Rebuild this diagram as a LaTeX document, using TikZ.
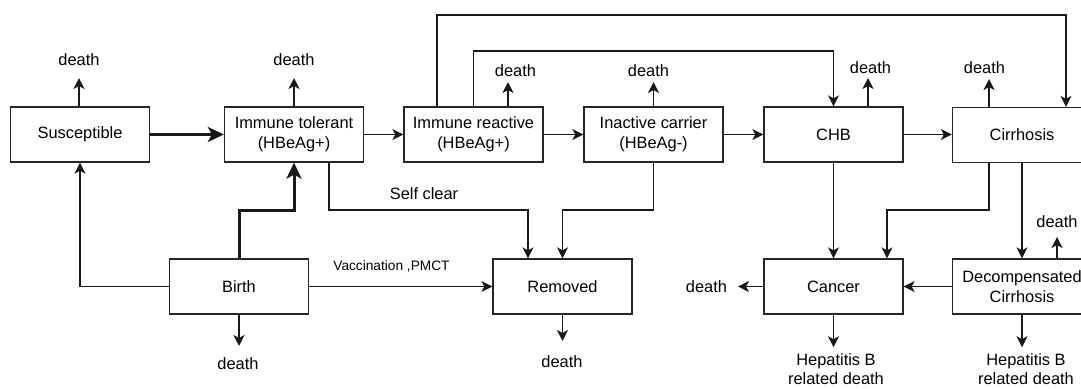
\documentclass[tikz,border=0pt]{standalone}
\usepackage{fontspec}
\setmainfont{Liberation Sans}
\usetikzlibrary{arrows.meta}
\begin{document}
\begin{tikzpicture}[x=1pt,y=-1pt,
  every node/.style={font=\fontsize{16.4}{19.5}\selectfont},
  state/.style={draw=black!85, line width=1.3pt, minimum width=139pt,
    minimum height=55pt, align=center, inner sep=2pt},
  flow/.style={draw=black!90, line width=1.3pt,
    -{Stealth[length=11pt,width=11pt,inset=3pt]}},
  mainflow/.style={flow, line width=3pt,
    -{Stealth[length=16pt,width=15pt,inset=4pt]}},
  fate/.style={inner sep=0pt, align=center},
  note/.style={inner sep=0pt, font=\fontsize{13.7}{16}\selectfont}]

\clip (0,0) rectangle (1081,388);

% compartments
\node[state] (sus) at (80,134.5)    {Susceptible};
\node[state] (tol) at (294,134.5)   {Immune tolerant\\(HBeAg+)};
\node[state] (rea) at (473.5,134.5) {Immune reactive\\(HBeAg+)};
\node[state] (ina) at (653.5,134.5) {Inactive carrier\\(HBeAg-)};
\node[state] (chb) at (833.5,134.5) {CHB};
\node[state] (cir) at (1022,135)    {Cirrhosis};
\node[state] (bir) at (239,286.5)   {Birth};
\node[state] (rem) at (562.5,286.5) {Removed};
\node[state] (can) at (833.5,286.5) {Cancer};
\node[state] (dec) at (1022,286.5)  {Decompensated\\Cirrhosis};

% exits
\node[fate, outer ysep=12pt] (dsus) at (79,60)     {death};
\node[fate, outer ysep=12pt] (dtol) at (294,60)    {death};
\node[fate, outer ysep=5pt]  (drea) at (515.5,71)  {death};
\node[fate, outer ysep=5pt]  (dina) at (648.5,71)  {death};
\node[fate, outer ysep=4pt]  (dchb) at (870.5,68)  {death};
\node[fate, outer ysep=5pt]  (dcir) at (984.5,68)  {death};
\node[fate, outer ysep=12pt] (dbir) at (238,364)   {death};
\node[fate, outer ysep=15pt] (drem) at (562,362)   {death};
\node[fate, outer xsep=11pt] (dcan) at (706.5,287) {death};
\node[fate, outer ysep=9pt]  (ddec) at (1057,222)  {death};
\node[fate, outer ysep=6pt]  (hcan) at (836,369)   {Hepatitis B\\related death};
\node[fate, outer ysep=6pt]  (hdec) at (1026,369)  {Hepatitis B\\related death};

% edge labels
\node[fate] (lself) at (424,194)   {Self clear};
\node[note] (lvac)  at (391.5,266) {Vaccination ,PMCT};

% attachment points off the box centres
\coordinate (reaA) at ([xshift=-36.5pt]rea.north);
\coordinate (reaD) at ([xshift=34.5pt]rea.north);
\coordinate (chbD) at ([xshift=34.5pt]chb.north);
\coordinate (cirA) at ([xshift=44pt]cir.north);
\coordinate (cirD) at ([xshift=-33pt]cir.north);
\coordinate (cirB) at ([xshift=-33pt]cir.south);
\coordinate (tolB) at ([xshift=35pt]tol.south);
\coordinate (remA) at ([xshift=-34.5pt]rem.north);
\coordinate (canA) at ([xshift=53.5pt]can.north);
\coordinate (decD) at ([xshift=35pt]dec.north);

% main progression
\draw[mainflow] (sus) -- (tol);
\draw[flow] (tol) -- (rea);
\draw[flow] (rea) -- (ina);
\draw[flow] (ina) -- (chb);
\draw[flow] (chb.east) -- (chb.east -| cir.west);
\draw[flow] (reaA) -- (reaA |- 0,15) -| (cirA);
\draw[flow] (rea.north) -- (rea.north |- 0,51) -| (chb.north);

% births and clearance
\draw[flow] (bir.west) -| (sus.south);
\draw[mainflow] (bir.north) -- (bir.north |- 0,210) -| (tol.south);
\draw[flow] (bir.east) -- (rem.west);
\draw[flow] (tolB) -- (tolB |- 0,210) -| (remA);
\draw[flow] (ina.south) -- (ina.south |- 0,210) -| (rem.north);

% liver disease
\draw[flow] (chb.south) -- (can.north);
\draw[flow] (cirB) -- (cirB |- 0,210) -| (canA);
\draw[flow] (cir.south) -- (dec.north);
\draw[flow] (dec.west) -- (can.east);

% deaths
\draw[flow] (dsus |- sus.north) -- (dsus);
\draw[flow] (tol.north) -- (dtol);
\draw[flow] (reaD) -- (reaD |- drea.south);
\draw[flow] (ina.north) -- (ina.north |- dina.south);
\draw[flow] (chbD) -- (chbD |- dchb.south);
\draw[flow] (cirD) -- (cirD |- dcir.south);
\draw[flow] (bir.south) -- (bir.south |- dbir.north);
\draw[flow] (rem.south) -- (rem.south |- drem.north);
\draw[flow] (can.west) -- (can.west -| dcan.east);
\draw[flow] (decD) -- (decD |- ddec.south);
\draw[flow] (can.south) -- (can.south |- hcan.north);
\draw[flow] (dec.south) -- (dec.south |- hdec.north);
\end{tikzpicture}
\end{document}
